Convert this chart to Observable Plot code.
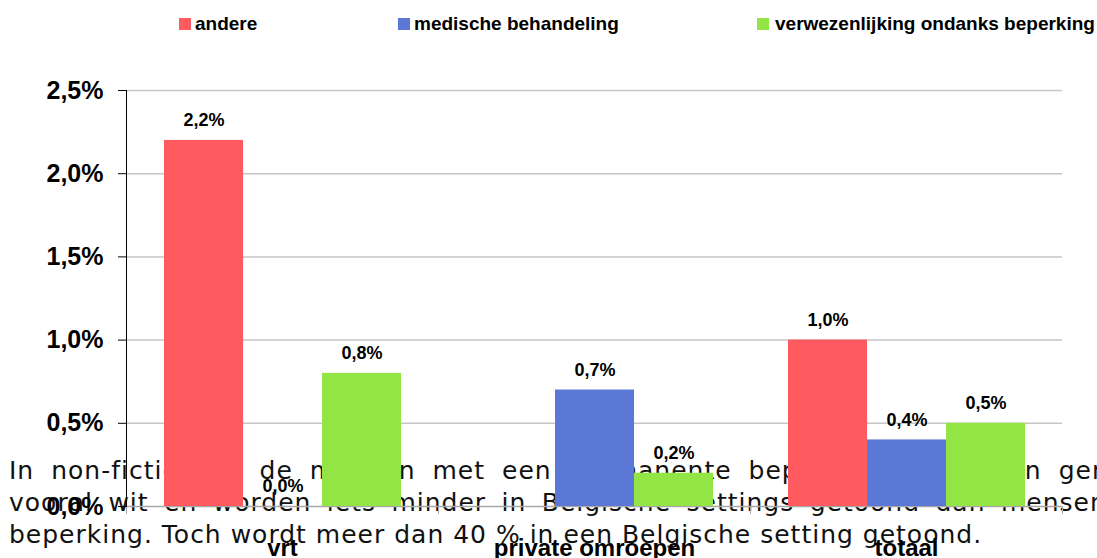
<!DOCTYPE html>
<html>
<head>
<meta charset="utf-8">
<script src="https://cdn.jsdelivr.net/npm/d3@7"></script>
<script src="https://cdn.jsdelivr.net/npm/@observablehq/plot@0.6"></script>
<style>
  html, body { margin: 0; padding: 0; background: #fff; width: 1097px; height: 558px; overflow: hidden; }
  #page { position: relative; width: 1097px; height: 558px; overflow: hidden; }
  #legend { position: absolute; left: 0; top: 0; width: 1097px; height: 50px; font-family: "Liberation Sans", Arial, sans-serif; font-weight: bold; font-size: 19px; color: #000; z-index: 2; }
  .item { position: absolute; top: 13px; height: 22px; line-height: 22px; white-space: nowrap; }
  .sw { position: absolute; left: 0; top: 5px; width: 12px; height: 12px; }
  .lbl { position: absolute; white-space: nowrap; }
  #para { position: absolute; left: 9px; top: 455px; font-family: "DejaVu Sans", sans-serif; font-size: 25px; letter-spacing: 1px; line-height: 32px; color: #111; white-space: nowrap; z-index: 0; }
  #chart { position: absolute; left: 0; top: 50px; z-index: 1; }
</style>
</head>
<body>
<div id="page">
  <div id="para">
    <div style="word-spacing:8px">In non-fictie zijn de mensen met een permanente beperking vaker dan gemiddeld</div>
    <div style="word-spacing:6.5px">vooral wit en worden iets minder in Belgische settings getoond dan mensen zonder</div>
    <div>beperking. Toch wordt meer dan 40 % in een Belgische setting getoond.</div>
  </div>
  <div id="legend"></div>
  <div id="chart"></div>
</div>
<script>
// ---- data ----
const categories = ["vrt", "private omroepen", "totaal"];
const series = ["andere", "medische behandeling", "verwezenlijking ondanks beperking"];
const colors = ["#ff5a5f", "#5b78d6", "#92e544"];
const andere = [2.2, null, 1.0];
const medische = [0.0, 0.7, 0.4];
const verwezenlijking = [0.8, 0.2, 0.5];
const yTicks = [0, 0.5, 1.0, 1.5, 2.0, 2.5];

const seriesValues = [andere, medische, verwezenlijking];
const table = [];
categories.forEach((c, i) => {
  series.forEach((s, j) => {
    const v = seriesValues[j][i];
    if (v != null) table.push({category: c, series: s, value: v});
  });
});

const fmt = d => d.toFixed(1).replace(".", ",") + "%";

// ---- legend ----
const legendLeft = [179, 398, 757];
const legend = document.getElementById("legend");
series.forEach((s, j) => {
  const it = document.createElement("div");
  it.className = "item";
  it.style.left = legendLeft[j] + "px";
  const sw = document.createElement("div");
  sw.className = "sw";
  sw.style.background = colors[j];
  const lb = document.createElement("div");
  lb.className = "lbl";
  lb.style.left = (j === 2 ? 18 : 16) + "px";
  lb.textContent = s;
  it.appendChild(sw);
  it.appendChild(lb);
  legend.appendChild(it);
});

// ---- chart ----
const chart = Plot.plot({
  width: 1097,
  height: 508,
  marginTop: 40,
  marginBottom: 52,
  marginLeft: 125,
  marginRight: 35,
  style: {
    background: "transparent",
    fontFamily: "'Liberation Sans', Arial, sans-serif",
    fontWeight: "bold",
    color: "#000",
    overflow: "visible"
  },
  fx: {domain: categories, padding: 0, label: null},
  x: {domain: series, paddingInner: 0, paddingOuter: 0.452, axis: null},
  y: {domain: [0, 2.5], label: null},
  color: {domain: series, range: colors},
  marks: [
    Plot.ruleY(yTicks.slice(1), {stroke: "#c6c6c6", strokeWidth: 1.5}),
    Plot.ruleY([0], {stroke: "#a8a8a8", strokeWidth: 1.5}),
    Plot.frame({anchor: "left", insetTop: 416, insetBottom: -7, stroke: "#a8a8a8"}),
    Plot.frame({anchor: "right", insetTop: 416, insetBottom: -7, stroke: "#a8a8a8"}),
    Plot.barY(table, {fx: "category", x: "series", y: "value", fill: "series"}),
    Plot.text(table, {fx: "category", x: "series", y: "value", text: d => fmt(d.value), dy: -20, fontSize: 18, fontWeight: "bold", fill: "#000"}),
    Plot.frame({anchor: "left", facet: "super", stroke: "#000"}),
    Plot.axisY({ticks: yTicks, tickFormat: fmt, tickSize: 8, tickPadding: 15, fontSize: 25, fontWeight: "bold", label: null}),
    Plot.axisFx({anchor: "bottom", tickSize: 0, tickPadding: 32, fontSize: 24, fontWeight: "bold", label: null})
  ]
});
document.getElementById("chart").appendChild(chart);
</script>
</body>
</html>
